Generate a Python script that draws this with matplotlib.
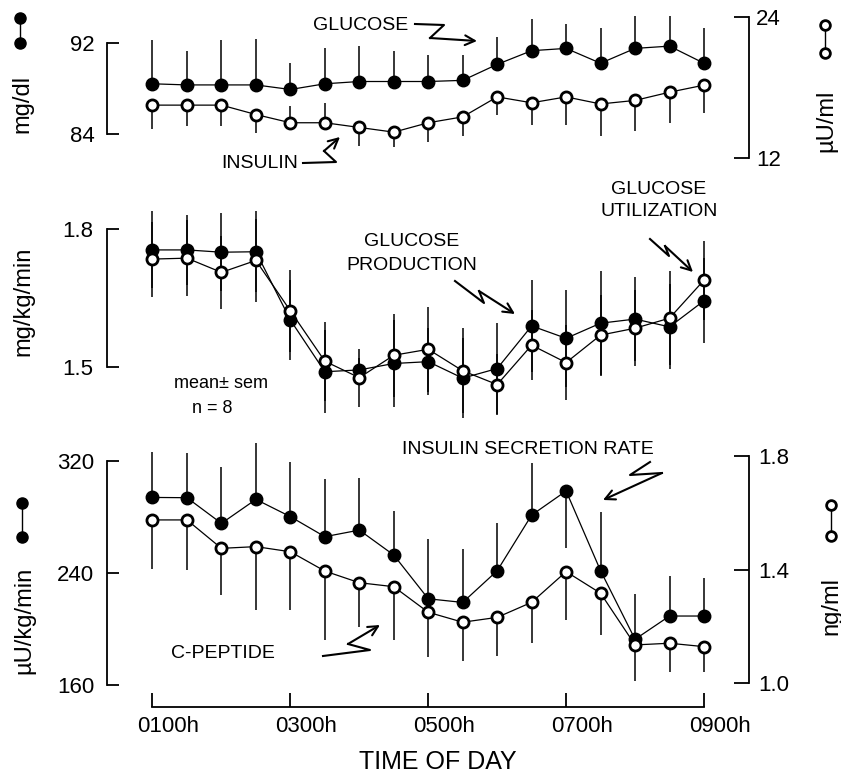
import matplotlib.pyplot as plt
from matplotlib.lines import Line2D
from matplotlib.transforms import ScaledTranslation

plt.rcParams['font.family'] = ['Liberation Sans', 'DejaVu Sans']

# half-hourly samples, 0100h to 0900h
hours = [1.0, 1.5, 2.0, 2.5, 3.0, 3.5, 4.0, 4.5, 5.0, 5.5, 6.0, 6.5, 7.0, 7.5, 8.0, 8.5, 9.0]

# top panel: plasma glucose (mg/dl) and insulin (uU/ml)
glucose = [88.4, 88.3, 88.3, 88.3, 87.9, 88.4, 88.6, 88.6, 88.6, 88.7, 90.1, 91.3, 91.5, 90.2, 91.5, 91.7, 90.2]
glucose_sem = [3.8, 3.0, 3.9, 4.0, 2.3, 3.1, 3.1, 2.7, 2.3, 2.2, 2.4, 2.8, 2.1, 3.1, 2.8, 2.6, 3.1]
insulin = [16.5, 16.5, 16.5, 15.7, 15.0, 15.0, 14.6, 14.2, 15.0, 15.5, 17.2, 16.7, 17.2, 16.6, 16.9, 17.6, 18.2]
insulin_sem_down = [2.0, 1.8, 1.8, 1.6, 0, 0, 1.6, 1.3, 1.6, 1.6, 1.5, 1.9, 2.4, 2.7, 2.6, 2.6, 2.4]
insulin_sem_up = [0, 0, 0, 0, 1.4, 1.7, 0, 0, 0, 0, 0, 0, 0, 0, 0, 0, 0]

# middle panel: glucose production / utilization (mg/kg/min)
production = [1.755, 1.755, 1.750, 1.751, 1.602, 1.489, 1.493, 1.507, 1.511, 1.475, 1.496, 1.589, 1.562, 1.595, 1.604, 1.587, 1.644]
production_sem = [.084, .076, .085, .088, .087, .091, .025, .094, .073, .087, .099, .100, .106, .115, .091, .093, .093]
utilization = [1.735, 1.737, 1.706, 1.732, 1.622, 1.512, 1.476, 1.525, 1.538, 1.491, 1.461, 1.547, 1.509, 1.569, 1.584, 1.606, 1.689]
utilization_sem = [.082, .083, .079, .090, .089, .086, .063, .091, .093, .093, .066, .076, .082, .087, .083, .102, .086]

# bottom panel: insulin secretion rate (uU/kg/min) and C-peptide (ng/ml)
isr = [293.8, 293.6, 275.3, 292.4, 280.1, 265.8, 270.5, 252.7, 221.5, 218.9, 241.5, 281.2, 298.4, 241.5, 192.6, 209.2, 209.2]
isr_sem_up = [32.6, 32.1, 40.4, 40.0, 39.2, 40.9, 36.9, 31.4, 42.3, 37.9, 33.8, 36.9, 0, 42.1, 32.3, 28.5, 26.9]
isr_sem_down = [0, 0, 0, 0, 0, 0, 0, 0, 0, 0, 0, 0, 40.9, 0, 0, 0, 0]
cpeptide = [1.575, 1.575, 1.475, 1.481, 1.463, 1.395, 1.354, 1.340, 1.250, 1.215, 1.232, 1.285, 1.393, 1.317, 1.135, 1.141, 1.129]
cpeptide_sem = [.174, .176, .164, .223, .205, .243, .155, .188, .156, .135, .136, .144, .170, .147, .126, .100, .088]

time_ticks = [1, 3, 5, 7, 9]
time_labels = ['0100h', '0300h', '0500h', '0700h', '0900h']

W, H = 841, 774
fig = plt.figure(figsize=(W / 100, H / 100), dpi=100)


def box(top, bottom, left=107, right=749):
    return [left / W, 1 - bottom / H, (right - left) / W, (bottom - top) / H]


def px(x, y):
    return (x / W, 1 - y / H)


def style(ax, side, ticks, bounds, tlen, pad):
    for s in ax.spines.values():
        s.set_visible(False)
    ax.spines[side].set_visible(True)
    ax.spines[side].set_linewidth(1.3)
    ax.spines[side].set_bounds(*bounds)
    ax.set_yticks(ticks)
    ax.tick_params(axis='y', direction='in', length=tlen, width=1.3, pad=pad, labelsize=16)
    ax.tick_params(axis='x', bottom=False, labelbottom=False, top=False, labeltop=False)
    ax.set_xlim(0.34, 9.653)
    ax.patch.set_visible(False)


def series(ax, y, down, up, filled):
    ax.errorbar(hours, y, yerr=[down, up], fmt='none', ecolor='black', elinewidth=1.1, capsize=0, zorder=2)
    if filled:
        ax.plot(hours, y, '-o', color='black', lw=0.9, ms=9, zorder=3)
    else:
        ax.plot(hours, y, '-o', color='black', lw=0.9, ms=8, mfc='white', mec='black', mew=2, zorder=3)


def legend_mark(x, y1, y2, filled):
    kw = dict(marker='o', color='black', lw=1.0, transform=fig.transFigure)
    if filled:
        kw.update(ms=8)
    else:
        kw.update(ms=7, mfc='white', mew=2)
    fig.add_artist(Line2D([x / W, x / W], [1 - y1 / H, 1 - y2 / H], **kw))


def bolt(points):
    xs = [p[0] / W for p in points[:-1]]
    ys = [1 - p[1] / H for p in points[:-1]]
    fig.add_artist(Line2D(xs, ys, color='black', lw=1.5, transform=fig.transFigure))
    ax_b.annotate('', xy=px(*points[-1]), xytext=px(*points[-2]), xycoords='figure fraction',
                  annotation_clip=False,
                  arrowprops=dict(arrowstyle='->,head_length=0.7,head_width=0.35', lw=1.5,
                                  color='black', shrinkA=0, shrinkB=0))


# ---- top panel ----
ax_t = fig.add_axes(box(10, 165))
ax_t.set_ylim(81.284, 94.865)
style(ax_t, 'left', [84, 92], (84, 92), 8.5, 9)
series(ax_t, glucose, [0] * len(hours), glucose_sem, True)

ax_t2 = ax_t.twinx()
ax_t2.set_ylim(11.404, 24.596)
style(ax_t2, 'right', [12, 24], (12, 24), 10.5, 5)
series(ax_t2, insulin, insulin_sem_down, insulin_sem_up, False)

# ---- middle panel ----
ax_m = fig.add_axes(box(200, 425))
ax_m.set_ylim(1.3727, 1.864)
style(ax_m, 'left', [1.5, 1.8], (1.5, 1.8), 8.5, 10)
series(ax_m, production, production_sem, production_sem, True)
series(ax_m, utilization, utilization_sem, utilization_sem, False)

# ---- bottom panel ----
ax_b = fig.add_axes(box(440, 690))
ax_b.set_ylim(156.43, 334.77)
style(ax_b, 'left', [160, 240, 320], (160, 320), 8.5, 9)
series(ax_b, isr, isr_sem_down, isr_sem_up, True)

ax_b2 = ax_b.twinx()
ax_b2.set_ylim(0.9764, 1.8563)
style(ax_b2, 'right', [1.0, 1.4, 1.8], (1.0, 1.8), 10.5, 7)
ax_b2.set_yticklabels(['1.0', '1.4', '1.8'])
series(ax_b2, cpeptide, cpeptide_sem, [0] * len(hours), False)

# time axis sits below the bottom panel
ax_b.spines['bottom'].set_visible(True)
ax_b.spines['bottom'].set_linewidth(1.3)
ax_b.spines['bottom'].set_position(('outward', 12))
ax_b.spines['bottom'].set_bounds(1, 9)
ax_b.set_xticks(time_ticks)
ax_b.set_xticklabels(time_labels)
ax_b.tick_params(axis='x', bottom=True, labelbottom=True, direction='in',
                 length=10, width=1.3, pad=7, labelsize=16)
shift = ScaledTranslation(0.16, 0, fig.dpi_scale_trans)
for lab in ax_b.get_xticklabels():
    lab.set_transform(lab.get_transform() + shift)

# ---- axis titles with symbols ----
fig.text(*px(22, 104), 'mg/dl', rotation=90, ha='center', va='center', fontsize=17)
legend_mark(20, 18, 43, True)
fig.text(*px(826, 121), 'µU/ml', rotation=90, ha='center', va='center', fontsize=17)
legend_mark(825, 25, 53, False)
fig.text(*px(23, 301), 'mg/kg/min', rotation=90, ha='center', va='center', fontsize=17)
fig.text(*px(24, 620), 'µU/kg/min', rotation=90, ha='center', va='center', fontsize=17)
legend_mark(22, 503, 537, True)
fig.text(*px(831, 606), 'ng/ml', rotation=90, ha='center', va='center', fontsize=17)
legend_mark(831, 505, 536, False)
fig.text(*px(438, 762), 'TIME OF DAY', ha='center', va='center', fontsize=18)

# ---- annotations ----
fig.text(*px(408, 25), 'GLUCOSE', ha='right', va='center', fontsize=14)
bolt([(415, 24), (444, 25), (430, 38), (477, 41)])
fig.text(*px(298, 164), 'INSULIN', ha='right', va='center', fontsize=14)
bolt([(303, 163), (336, 162), (324, 151), (340, 137)])

fig.text(*px(412, 242), 'GLUCOSE', ha='center', va='center', fontsize=14)
fig.text(*px(412, 266), 'PRODUCTION', ha='center', va='center', fontsize=14)
bolt([(455, 281), (484, 303), (479, 291), (515, 314)])
fig.text(*px(659, 189), 'GLUCOSE', ha='center', va='center', fontsize=14)
fig.text(*px(659, 212), 'UTILIZATION', ha='center', va='center', fontsize=14)
bolt([(650, 239), (669, 256), (665, 246), (693, 272)])
fig.text(*px(221, 384), 'mean± sem', ha='center', va='center', fontsize=13)
fig.text(*px(212, 408), 'n = 8', ha='center', va='center', fontsize=13)

fig.text(*px(528, 450), 'INSULIN SECRETION RATE', ha='center', va='center', fontsize=14)
bolt([(650, 462), (630, 475), (662, 473), (603, 500)])
fig.text(*px(223, 653), 'C-PEPTIDE', ha='center', va='center', fontsize=14)
bolt([(323, 656), (370, 650), (348, 644), (380, 625)])

fig.savefig('out.png', dpi=100)
